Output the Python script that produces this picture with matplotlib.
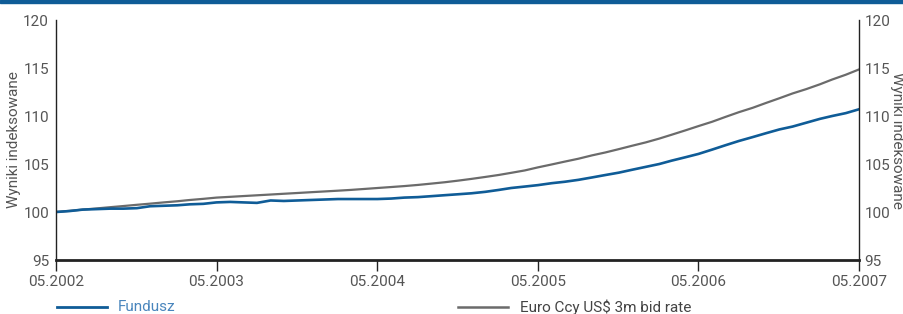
import numpy as np
import pandas as pd
import matplotlib
matplotlib.use("Agg")
import matplotlib.pyplot as plt
import matplotlib.dates as mdates
from matplotlib.lines import Line2D
from matplotlib.patches import Rectangle

# monthly points, 05.2002 - 05.2007
dates = pd.date_range("2002-05-01", "2007-05-01", freq="MS")

fundusz = [
    100.0, 100.1, 100.25, 100.3, 100.35, 100.35, 100.4, 100.6, 100.65, 100.7, 100.8, 100.85,
    101.0, 101.05, 101.0, 100.95, 101.2, 101.15, 101.2, 101.25, 101.3, 101.35, 101.35, 101.35,
    101.35, 101.4, 101.5, 101.55, 101.65, 101.75, 101.85, 101.95, 102.1, 102.3, 102.5, 102.65,
    102.8, 103.0, 103.15, 103.35, 103.6, 103.85, 104.1, 104.4, 104.7, 105.0, 105.35, 105.7,
    106.05, 106.5, 106.95, 107.4, 107.8, 108.2, 108.6, 108.9, 109.3, 109.7, 110.0, 110.3,
    110.7,
]

euro_ccy = [
    100.0, 100.12, 100.25, 100.37, 100.5, 100.62, 100.75, 100.87, 101.0, 101.12, 101.25, 101.37,
    101.5, 101.58, 101.66, 101.74, 101.82, 101.9, 101.98, 102.06, 102.14, 102.22, 102.3, 102.4,
    102.5, 102.6, 102.7, 102.82, 102.96, 103.1, 103.27, 103.45, 103.65, 103.86, 104.08, 104.33,
    104.65, 104.95, 105.25, 105.55, 105.9, 106.2, 106.55, 106.9, 107.25, 107.65, 108.05, 108.5,
    108.95, 109.4, 109.9, 110.4, 110.85, 111.35, 111.85, 112.35, 112.8, 113.3, 113.8, 114.3,
    114.85,
]

labels = ["Fundusz", "Euro Ccy US$ 3m bid rate"]
y_ticks = [95, 100, 105, 110, 115, 120]
x_ticks = pd.date_range("2002-05-01", "2007-05-01", freq="12MS")

blue = "#0f5c97"
grey = "#6b6b6b"
txt = "#555555"
fs = 11

plt.rcParams["font.family"] = ["Roboto", "DejaVu Sans"]

fig = plt.figure(figsize=(9.04, 3.14), dpi=100)
ax = fig.add_axes([56 / 904, 1 - 260 / 314, (859 - 56) / 904, 240 / 314])

ax.plot(dates, euro_ccy, color=grey, linewidth=1.6)
ax.plot(dates, fundusz, color=blue, linewidth=1.9)

ax.set_xlim(dates[0], dates[-1])
ax.set_ylim(95, 120)
ax.set_yticks(y_ticks)
ax.set_xticks(x_ticks)
ax.xaxis.set_major_formatter(mdates.DateFormatter("%m.%Y"))

for s in ["left", "right"]:
    ax.spines[s].set_linewidth(1.0)
    ax.spines[s].set_color("#222222")
ax.spines["top"].set_visible(False)
ax.spines["bottom"].set_linewidth(2.0)
ax.spines["bottom"].set_color("#222222")

ax.tick_params(axis="y", length=0, labelsize=fs, labelcolor=txt, pad=5)
ax.tick_params(axis="x", length=8, width=1, color="#222222", labelsize=fs,
               labelcolor=txt, pad=3)
ax.set_ylabel("Wyniki indeksowane", fontsize=fs, color=txt, va="center", ha="center")
ax.yaxis.set_label_coords(-0.052, 0.5)

# right-hand scale
ax2 = ax.twinx()
ax2.set_ylim(ax.get_ylim())
ax2.set_yticks(y_ticks)
ax2.tick_params(axis="y", length=0, labelsize=fs, labelcolor=txt, pad=4)
for s in ax2.spines.values():
    s.set_visible(False)
ax2.set_ylabel("Wyniki indeksowane", fontsize=fs, color=txt, rotation=-90,
               va="center", ha="center")
ax2.yaxis.set_label_coords(1.047, 0.5)

# blue band on top
fig.add_artist(Rectangle((0, 1 - 3 / 314), 1, 3 / 314, transform=fig.transFigure,
                         color=blue, zorder=5))

# legend below the chart
ly = 1 - 307 / 314
fig.add_artist(Line2D([57 / 904, 107 / 904], [ly, ly], color=blue, linewidth=2.0,
                      transform=fig.transFigure))
fig.text(118 / 904, ly, labels[0], color="#4a86bd", fontsize=fs, va="center")
fig.add_artist(Line2D([458 / 904, 508 / 904], [ly, ly], color=grey, linewidth=1.8,
                      transform=fig.transFigure))
fig.text(520 / 904, ly, labels[1], color="#444444", fontsize=fs, va="center")

fig.savefig("out.png", dpi=100)
